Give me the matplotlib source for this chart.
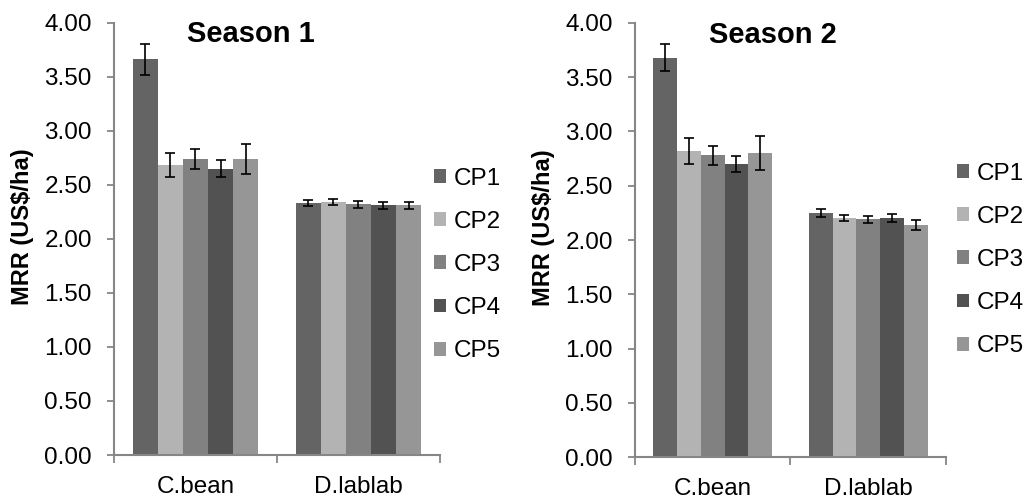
import matplotlib
matplotlib.use("Agg")
import matplotlib.pyplot as plt
from matplotlib.patches import Patch
import numpy as np

plt.rcParams['font.family'] = ['Liberation Sans', 'DejaVu Sans']

categories = ["C.bean", "D.lablab"]
series = ["CP1", "CP2", "CP3", "CP4", "CP5"]
colors = ["#646464", "#b3b3b3", "#818181", "#525252", "#969696"]

# Season 1 values [C.bean, D.lablab] per series
s1_values = {
    "CP1": [3.66, 2.33],
    "CP2": [2.68, 2.34],
    "CP3": [2.74, 2.32],
    "CP4": [2.65, 2.31],
    "CP5": [2.74, 2.31],
}
s1_errors = {
    "CP1": [0.14, 0.03],
    "CP2": [0.11, 0.025],
    "CP3": [0.09, 0.03],
    "CP4": [0.075, 0.03],
    "CP5": [0.14, 0.03],
}
# Season 2
s2_values = {
    "CP1": [3.68, 2.25],
    "CP2": [2.82, 2.205],
    "CP3": [2.78, 2.19],
    "CP4": [2.70, 2.205],
    "CP5": [2.80, 2.135],
}
s2_errors = {
    "CP1": [0.125, 0.035],
    "CP2": [0.12, 0.03],
    "CP3": [0.09, 0.03],
    "CP4": [0.072, 0.035],
    "CP5": [0.155, 0.045],
}
yticks = [0.0, 0.5, 1.0, 1.5, 2.0, 2.5, 3.0, 3.5, 4.0]

fig = plt.figure(figsize=(10.25, 5), dpi=100)
axL = fig.add_axes([0.1112, 0.09, 0.318, 0.8646])
axR = fig.add_axes([0.6195, 0.0854, 0.3034, 0.869])

axis_color = "#868686"
FS = 17.5

def draw(ax, values, errors, title, tx, ty, w, ylx):
    n = len(series)
    centers = np.arange(len(categories)) + 0.5
    for i, s in enumerate(series):
        x = centers + (i - (n - 1) / 2) * w
        ax.bar(x, values[s], width=w, color=colors[i], edgecolor='none', zorder=2)
        ax.errorbar(x, values[s], yerr=errors[s], fmt='none', ecolor='black',
                    elinewidth=1.2, capsize=3.6, capthick=1.2, zorder=3)
    ax.set_xlim(0, len(categories))
    ax.set_ylim(0, 4.0)
    ax.set_yticks(yticks)
    ax.set_yticklabels([f"{v:.2f}" for v in yticks], fontsize=FS)
    ax.set_xticks(centers)
    ax.set_xticklabels(categories, fontsize=FS)
    ax.set_xticks(np.arange(len(categories) + 1), minor=True)
    ax.tick_params(axis='x', which='major', length=0, pad=15)
    ax.tick_params(axis='x', which='minor', length=6, width=1.3, color=axis_color, direction='out')
    ax.tick_params(axis='y', length=5, width=1.3, color=axis_color, direction='out', pad=11)
    for sp in ['top', 'right']:
        ax.spines[sp].set_visible(False)
    for sp in ['left', 'bottom']:
        ax.spines[sp].set_color(axis_color)
        ax.spines[sp].set_linewidth(1.5)
    ax.set_ylabel("MRR (US$/ha)", fontsize=17, fontweight='bold')
    ax.yaxis.set_label_coords(ylx, 0.528)
    ax.text(tx, ty, title, transform=ax.transAxes, ha='center', va='baseline',
            fontsize=21, fontweight='bold')

draw(axL, s1_values, s1_errors, "Season 1", 0.42, 0.956, 0.1537, -0.245)
draw(axR, s2_values, s2_errors, "Season 2", 0.444, 0.954, 0.1526, -0.257)

handles = [Patch(facecolor=c, edgecolor='none') for c in colors]
for xpos, ypos in [(0.4234, 0.47), (0.9337, 0.48)]:
    fig.legend(handles, series, loc='center left', bbox_to_anchor=(xpos, ypos),
               frameon=False, fontsize=FS, handlelength=0.5, handleheight=0.5,
               handletextpad=0.3, labelspacing=0.87, borderpad=0, borderaxespad=0)

fig.savefig("out.png", dpi=100)
